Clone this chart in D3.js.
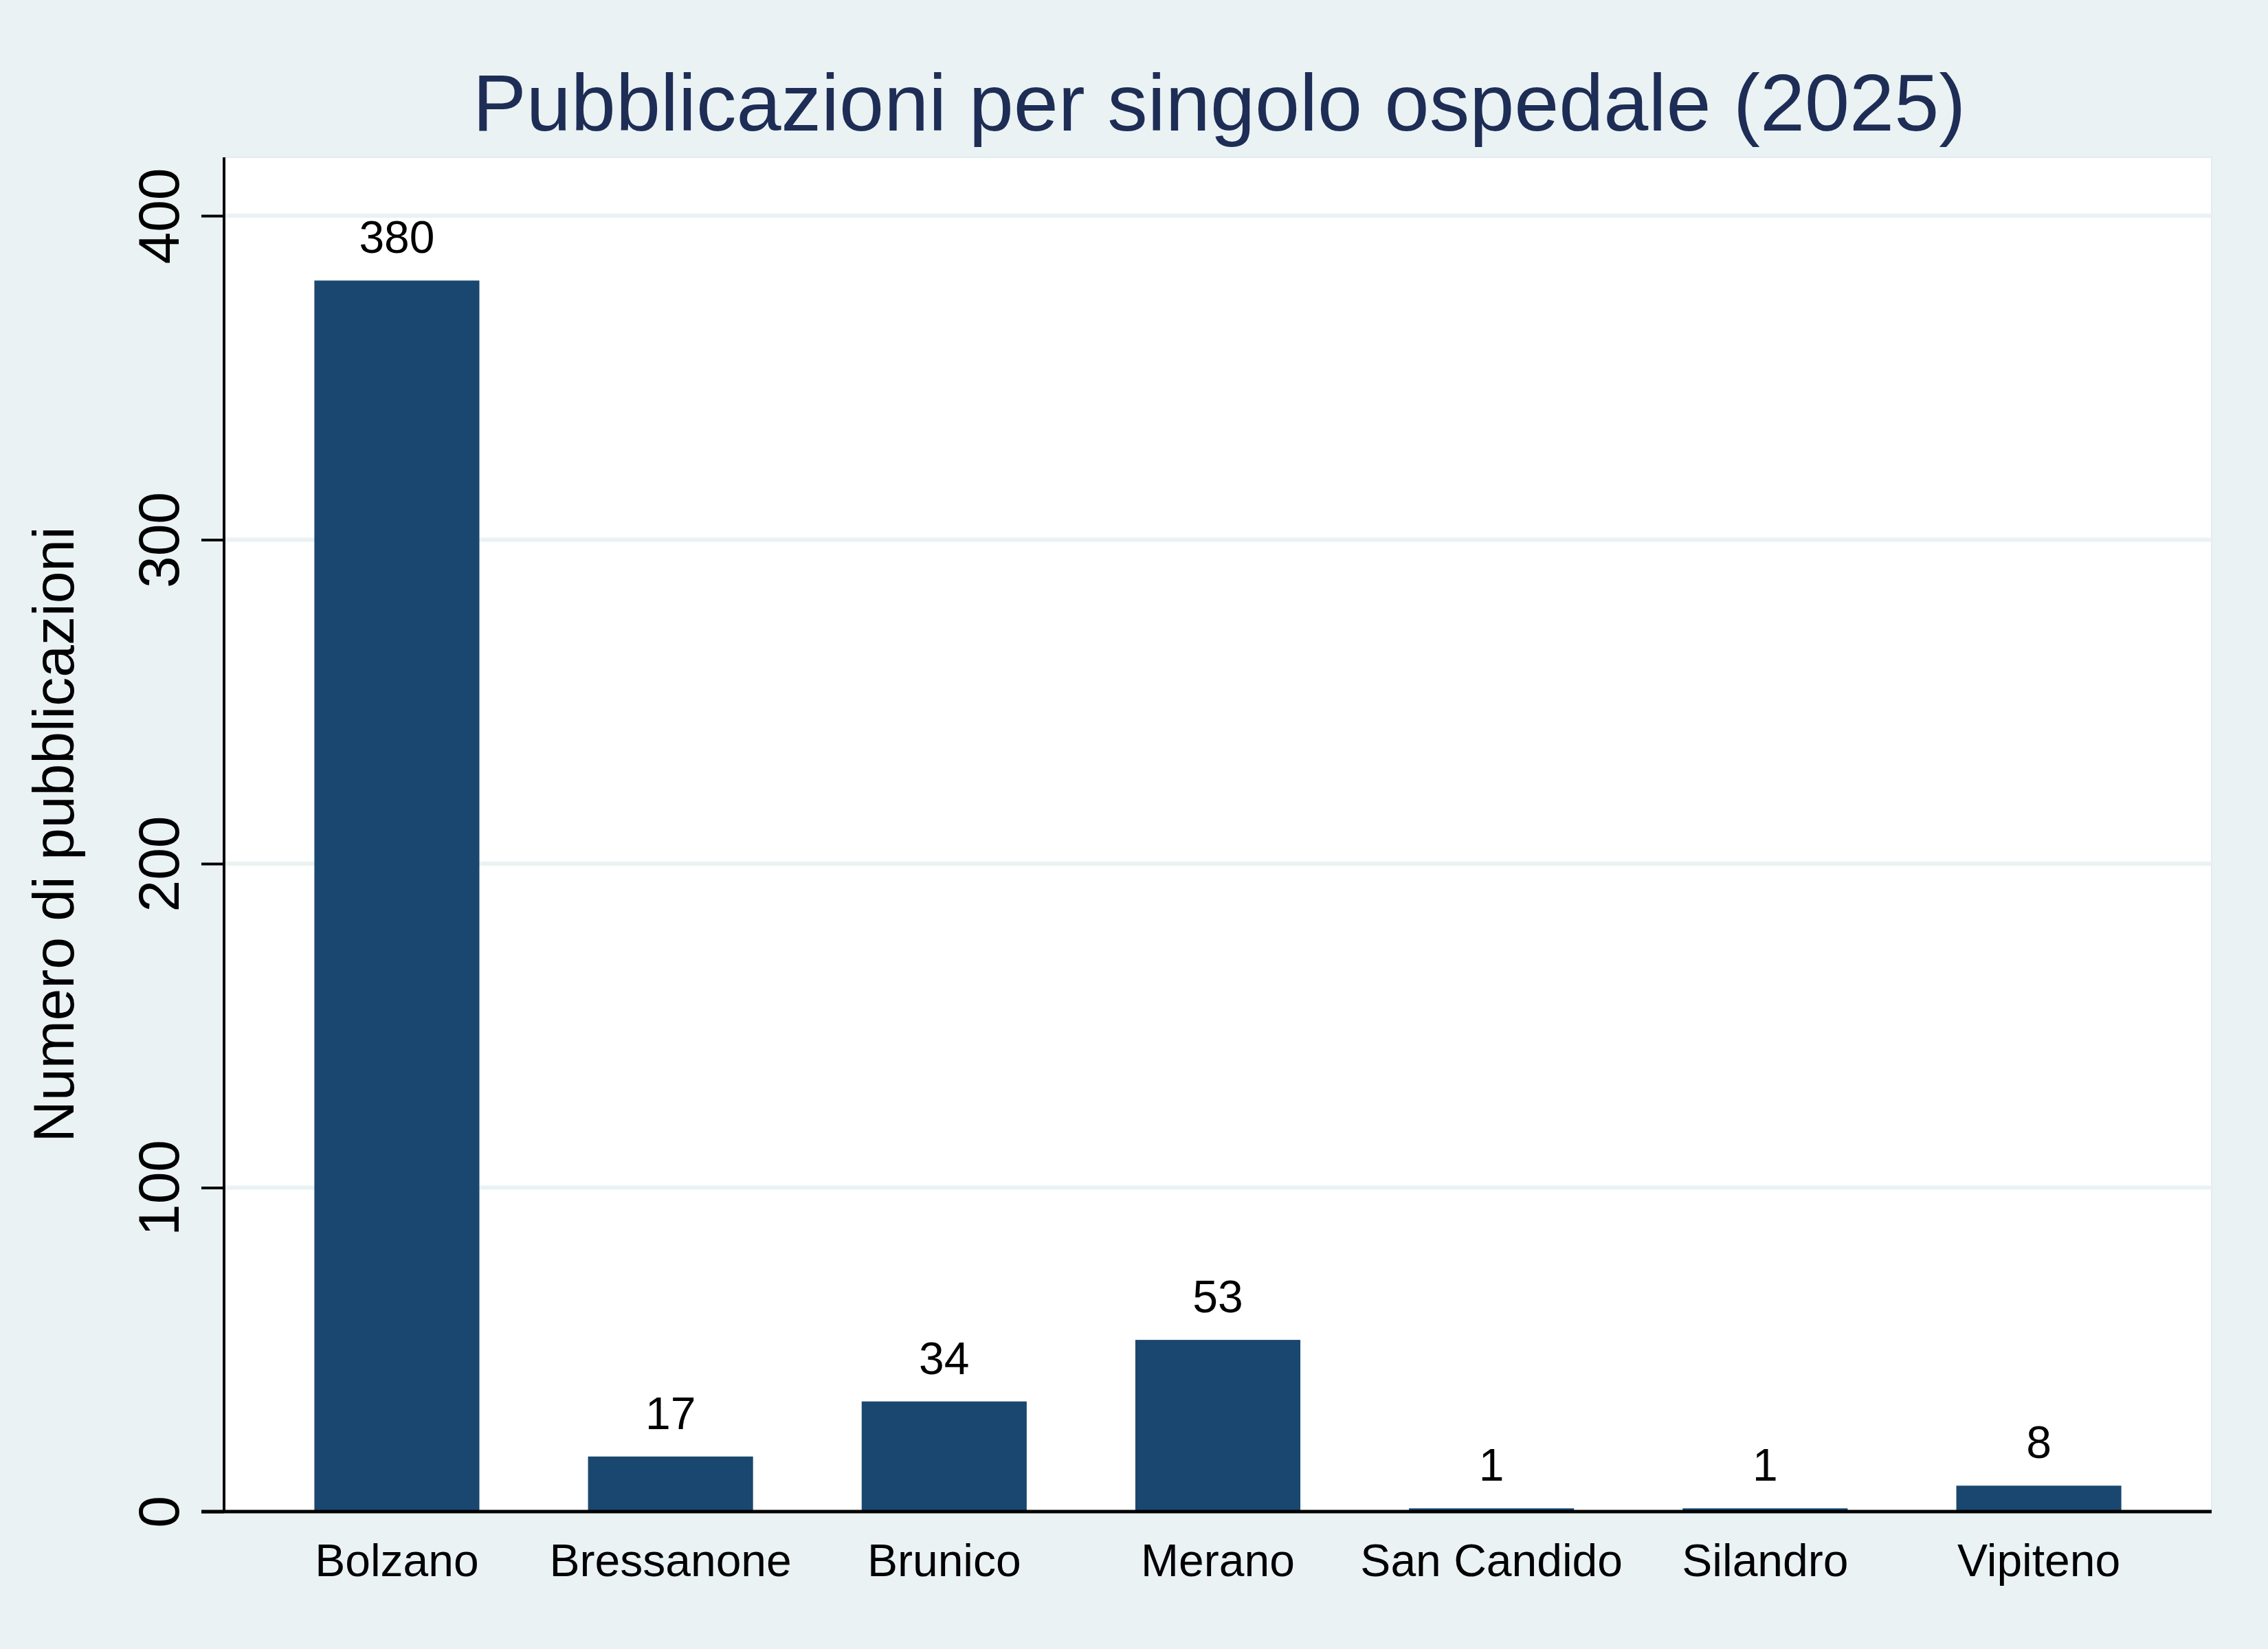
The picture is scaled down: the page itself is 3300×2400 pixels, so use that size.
<!DOCTYPE html>
<html>
<head>
<meta charset="utf-8">
<script src="https://cdn.jsdelivr.net/npm/d3@7"></script>
<style>
  html, body { margin: 0; padding: 0; background: #eaf2f3; overflow: hidden; }
  svg { display: block; font-family: Arial, "Liberation Sans", Helvetica, sans-serif; }
</style>
</head>
<body>
<script>
const categories = ["Bolzano", "Bressanone", "Brunico", "Merano", "San Candido", "Silandro", "Vipiteno"];
const values = [380, 17, 34, 53, 1, 1, 8];
const yTicks = [0, 100, 200, 300, 400];
const titleText = "Pubblicazioni per singolo ospedale (2025)";
const yTitle = "Numero di pubblicazioni";

const W = 3300, H = 2400;
const m = { left: 326, right: 3218, top: 229, bottom: 2200 };

const svg = d3.select("body").append("svg").attr("width", W).attr("height", H);
svg.append("rect").attr("width", W).attr("height", H).attr("fill", "#eaf2f3");

// plot region
svg.append("rect")
  .attr("x", m.left).attr("y", m.top)
  .attr("width", m.right - m.left).attr("height", m.bottom - m.top)
  .attr("fill", "#ffffff").attr("stroke", "#e3ecee").attr("stroke-width", 2);

const x = d3.scaleBand().domain(categories).range([m.left, m.right])
  .paddingInner(0.397).paddingOuter(0.33);
const y = d3.scaleLinear().domain([0, 400]).range([m.bottom, 314]);

// gridlines
svg.append("g").selectAll("line").data(yTicks.filter(d => d > 0)).join("line")
  .attr("x1", m.left).attr("x2", m.right)
  .attr("y1", d => y(d)).attr("y2", d => y(d))
  .attr("stroke", "#eaf2f3").attr("stroke-width", 6);

// bars
svg.append("g").selectAll("rect").data(values).join("rect")
  .attr("x", (d, i) => x(categories[i]))
  .attr("width", x.bandwidth())
  .attr("y", d => y(d))
  .attr("height", d => y(0) - y(d))
  .attr("fill", "#1a476f");

// value labels
svg.append("g").selectAll("text").data(values).join("text")
  .attr("x", (d, i) => x(categories[i]) + x.bandwidth() / 2)
  .attr("y", d => y(d) - 40)
  .attr("text-anchor", "middle")
  .attr("font-size", 66).attr("fill", "#000")
  .text(d => d);

// y axis
const yAxis = d3.axisLeft(y).tickValues(yTicks).tickSize(33).tickPadding(0).tickFormat(d3.format("d"));
const gy = svg.append("g").attr("transform", `translate(${m.left},0)`).call(yAxis);
gy.select(".domain").attr("d", `M0,${m.top}V${m.bottom + 2}`).attr("stroke", "#000").attr("stroke-width", 4);
gy.selectAll(".tick line").attr("stroke", "#000").attr("stroke-width", 4);
gy.selectAll(".tick text")
  .attr("font-size", 84).attr("fill", "#000")
  .attr("font-family", "Arial, 'Liberation Sans', sans-serif")
  .attr("transform", "translate(-66,0) rotate(-90)")
  .attr("x", 0).attr("y", 0).attr("dy", 0)
  .attr("text-anchor", "middle");

// x axis
const xAxis = d3.axisBottom(x).tickSize(0).tickPadding(0);
const gx = svg.append("g").attr("transform", `translate(0,${m.bottom})`).call(xAxis);
gx.select(".domain").attr("d", `M${m.left - 33},0H${m.right}`).attr("stroke", "#000").attr("stroke-width", 5);
gx.selectAll(".tick text")
  .attr("font-size", 66).attr("fill", "#000")
  .attr("font-family", "Arial, 'Liberation Sans', sans-serif")
  .attr("y", 94).attr("dy", 0);

// y title
svg.append("text")
  .attr("transform", `translate(107,${(m.top + m.bottom) / 2}) rotate(-90)`)
  .attr("text-anchor", "middle")
  .attr("font-size", 84).attr("fill", "#000")
  .text(yTitle);

// title
svg.append("text")
  .attr("x", 1774).attr("y", 190)
  .attr("text-anchor", "middle")
  .attr("font-size", 117).attr("fill", "#1e2d55")
  .text(titleText);
</script>
</body>
</html>
